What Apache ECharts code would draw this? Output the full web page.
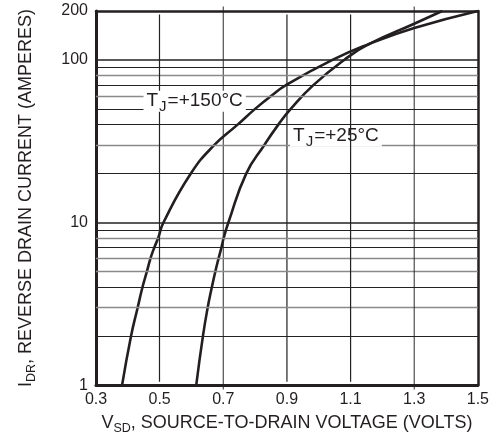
<!DOCTYPE html>
<html>
<head>
<meta charset="utf-8">
<script src="https://cdn.jsdelivr.net/npm/echarts@6/dist/echarts.min.js"></script>
<style>
html,body{margin:0;padding:0;background:#fff;}
#c{width:492px;height:440px;}
</style>
</head>
<body>
<div id="c"></div>
<script>
// ---- data ----
const I150 = [1, 2, 3, 4, 5, 6, 7, 8, 10, 20, 30, 40, 50, 60, 70, 100, 125, 157, 200];
const V150 = [0.382, 0.410, 0.431, 0.446, 0.460, 0.471, 0.483, 0.495, 0.512, 0.598, 0.672, 0.745, 0.800, 0.850, 0.897, 1.043, 1.157, 1.300, 1.500];
const I25 = [1, 2, 3, 4, 5, 6, 7, 8, 10, 20, 30, 40, 50, 70, 100, 125, 167, 200];
const V25 = [0.615, 0.636, 0.651, 0.664, 0.675, 0.685, 0.694, 0.701, 0.716, 0.772, 0.829, 0.873, 0.912, 0.983, 1.080, 1.157, 1.300, 1.388];
const xTicks = [0.3, 0.5, 0.7, 0.9, 1.1, 1.3, 1.5];
const yTicks = [1, 10, 100, 200];
const xGrid = [0.5, 0.7, 0.9, 1.1, 1.3];
const yGridMajor = [10, 100];
const yGridBlack = [2, 4, 7, 9, 20, 40, 50, 70, 90];
const yGridGrey = [3, 5, 6, 8, 30, 60, 80];
const label150 = 'T|J|=+150°C';
const label25 = 'T|J|=+25°C';

const INK = '#231f20';
const FONT = '"Liberation Sans", Arial, Helvetica, sans-serif';
const X_MIN = 0.3, X_MAX = 1.5, Y_MIN = 1, Y_MAX = 200;

function pair(arrV, arrI) { return arrV.map((v, i) => [v, arrI[i]]); }
function richLabel(s) {
  const p = s.split('|');
  return '{a|' + p[0] + '}{b|' + p[1] + '}{a|' + p[2] + '}';
}
function hLine(v, color, width) {
  return [{ coord: [X_MIN, v], lineStyle: { color: color, width: width, type: 'solid' } }, { coord: [X_MAX, v] }];
}

const gridLines = [];
yGridMajor.forEach(v => gridLines.push(hLine(v, '#222', 1.6)));
yGridBlack.forEach(v => gridLines.push(hLine(v, '#222', 1)));
yGridGrey.forEach(v => gridLines.push(hLine(v, '#8a8a8a', 1.3)));
// 0.5: marker line through the series
gridLines.push([{ coord: [xGrid[0], 1.05], lineStyle: { color: '#222', width: 1.2, type: 'solid' } }, { coord: [xGrid[0], 190] }]);

const curveLabelRich = {
  a: { fontSize: 19, lineHeight: 21, fontFamily: FONT, color: INK },
  b: { fontSize: 15, lineHeight: 21, fontFamily: FONT, color: INK, padding: [12, 1, 0, 1] }
};
const titleRich = {
  a: { fontSize: 18, fontFamily: FONT, color: INK, lineHeight: 19 },
  b: { fontSize: 12.5, fontFamily: FONT, color: INK, lineHeight: 19, padding: [10, 0, 0, 0] }
};
const frameAxis = {
  axisLine: { show: true, onZero: false, lineStyle: { color: INK, width: 2.5 } },
  axisTick: { show: false }, axisLabel: { show: false }, splitLine: { show: false }
};

const chart = echarts.init(document.getElementById('c'), null, { renderer: 'canvas' });
chart.setOption({
  animation: false,
  backgroundColor: '#fff',
  grid: { left: 96, right: 13, top: 11, bottom: 46 },
  xAxis: [{
    type: 'value', min: X_MIN, max: X_MAX, position: 'bottom',
    axisLine: { show: true, onZero: false, lineStyle: { color: INK, width: 3 } },
    axisTick: { show: false },
    splitLine: { show: false },
    axisLabel: { customValues: xTicks, color: INK, fontSize: 16, fontFamily: FONT, margin: 6,
      formatter: v => v.toFixed(1) },
    name: '{a|V}{b|SD}{a|, SOURCE-TO-DRAIN VOLTAGE (VOLTS)}',
    nameLocation: 'middle', nameGap: 20,
    nameTextStyle: { rich: titleRich }
  }, Object.assign({ type: 'value', min: X_MIN, max: X_MAX, position: 'top' }, frameAxis)],
  yAxis: [{
    type: 'log', logBase: 10, min: Y_MIN, max: Y_MAX, position: 'left',
    axisLine: { show: true, onZero: false, lineStyle: { color: INK, width: 3 } },
    axisTick: { show: false },
    splitLine: { show: false },
    axisLabel: { customValues: yTicks, color: INK, fontSize: 16, fontFamily: FONT, margin: 8 },
    name: '{a|I}{b|DR}{a|, REVERSE DRAIN CURRENT (AMPERES)}',
    nameLocation: 'middle', nameGap: 60, nameRotate: 90,
    nameTextStyle: { rich: titleRich }
  }, Object.assign({ type: 'log', logBase: 10, min: Y_MIN, max: Y_MAX, position: 'right' }, frameAxis)],
  series: [
    // 0.7: scatter rect
    { type: 'scatter', data: [[xGrid[1], 14.142]], symbol: 'rect', symbolSize: [1.2, 383],
      itemStyle: { color: '#222' }, z: 4, silent: true },
    // 0.9: plain line series
    { type: 'line', data: [[xGrid[2], 1.05], [xGrid[2], 190]], showSymbol: false, lineStyle: { color: '#222', width: 1.2 } },
    // 1.1: line series, different z
    { type: 'line', data: [[xGrid[3], 1.05], [xGrid[3], 190]], showSymbol: false, z: 6, lineStyle: { color: '#222', width: 1.2 } },
    // 1.3: scatter rect at higher z
    { type: 'scatter', data: [[xGrid[4], 14.142]], symbol: 'rect', symbolSize: [1.2, 383],
      itemStyle: { color: '#222' }, z: 6, silent: true },
    {
      name: '150', type: 'line', data: pair(V150, I150), showSymbol: false, smooth: 0.5,
      lineStyle: { color: INK, width: 2.6 }, z: 3,
      markLine: { silent: true, symbol: ['none', 'none'], label: { show: false }, animation: false, data: gridLines },
      markPoint: {
        symbol: 'circle', symbolSize: 1, itemStyle: { color: 'rgba(0,0,0,0)' }, silent: true,
        data: [{ coord: [0.610, 55.8], label: { show: true, position: 'inside', formatter: richLabel(label150),
          backgroundColor: '#fff', padding: [0, 3], rich: curveLabelRich } }]
      }
    },
    {
      name: '25', type: 'line', data: pair(V25, I25), showSymbol: false, smooth: 0.5,
      lineStyle: { color: INK, width: 2.6 }, z: 3,
      markPoint: {
        symbol: 'circle', symbolSize: 1, itemStyle: { color: 'rgba(0,0,0,0)' }, silent: true,
        data: [{ coord: [1.054, 34.1], label: { show: true, position: 'inside', formatter: richLabel(label25),
          backgroundColor: '#fff', padding: [0, 3], rich: curveLabelRich } }]
      }
    }
  ]
});
</script>
</body>
</html>
